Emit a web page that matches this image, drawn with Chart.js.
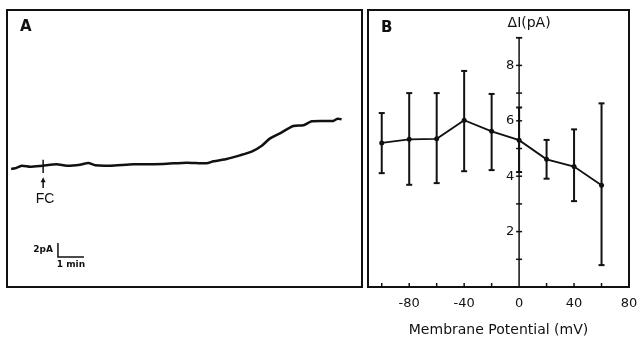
<!DOCTYPE html>
<html>
<head>
<meta charset="utf-8">
<script src="https://cdn.jsdelivr.net/npm/chart.js@4.4.0/dist/chart.umd.min.js"></script>
<style>
    body { margin: 0; background: #fff; }
    #wrap { position: relative; width: 639px; height: 342px; background: #fff; }
    #chartA { position: absolute; left: 0; top: 0; }
    #chartB { position: absolute; left: 364px; top: 0; }
</style>
</head>
<body>
<div id="wrap">
    <canvas id="chartA" width="370" height="300"></canvas>
    <canvas id="chartB" width="275" height="342"></canvas>
</div>
<script>
// ---- Panel A: current trace (time in min, current in pA above baseline)
const traceTime = [0.12, 0.27, 0.53, 0.85, 1.33, 1.87, 2.26, 2.77, 3.09, 3.35, 3.92, 4.82, 5.97, 6.87, 7.64,
                   7.90, 8.41, 8.92, 9.37, 9.76, 10.08, 10.46, 10.97, 11.36, 11.68, 12.13, 12.51, 12.67, 12.83];
const traceCurrent = [-0.43, -0.33, 0.05, -0.10, 0.05, 0.24, 0.05, 0.19, 0.43, 0.10, 0.05, 0.24, 0.29, 0.48, 0.38,
                      0.67, 1.00, 1.52, 2.05, 2.90, 3.95, 4.67, 5.71, 5.81, 6.38, 6.43, 6.43, 6.76, 6.67];
const fcTime = 1.35;
const scaleBarTime = [1.92, 1.92, 2.92];
const scaleBarCurrent = [-11, -13, -13];

// ---- Panel B: delta I vs membrane potential
const potentials = [-100, -80, -60, -40, -20, 0, 20, 40, 60];
const meanDeltaI = [5.20, 5.33, 5.35, 6.02, 5.62, 5.30, 4.61, 4.35, 3.67];
const errorHigh = [6.28, 7.00, 7.00, 7.80, 6.97, 6.48, 5.31, 5.69, 6.63];
const errorLow = [4.11, 3.69, 3.75, 4.18, 4.22, 4.15, 3.91, 3.10, 0.79];
const xTickMarks = [-100, -80, -60, -40, -20, 20, 40, 60];
const xTickLabels = [-80, -40, 0, 40, 80];
const yTickMarks = [1, 2, 3, 4, 5, 6, 7, 8, 9];
const yTickLabels = [2, 4, 6, 8];
const yAxisTop = 9;

const ink = "#111";
const fontFamily = '"DejaVu Sans", sans-serif';

function drawLine(ctx, x1, y1, x2, y2)
{
    ctx.beginPath();
    ctx.moveTo(x1, y1);
    ctx.lineTo(x2, y2);
    ctx.stroke();
}

const panelAPlugin =
    {
        id: "panelA",
        afterDraw(chart)
        {
            const {ctx, chartArea: a, scales: {x, y}} = chart;
            ctx.save();
            ctx.strokeStyle = ink;
            ctx.fillStyle = ink;
            ctx.lineWidth = 2;
            ctx.strokeRect(a.left, a.top, a.right - a.left, a.bottom - a.top);

            ctx.font = "bold 15px " + fontFamily;
            ctx.textBaseline = "top";
            ctx.fillText("A", a.left + 13, a.top + 10);

            // FC marker and arrow
            const fx = x.getPixelForValue(fcTime);
            ctx.lineWidth = 1.5;
            drawLine(ctx, fx, y.getPixelForValue(0.9), fx, y.getPixelForValue(-1.0));
            const tip = y.getPixelForValue(-1.6);
            drawLine(ctx, fx, tip + 3, fx, y.getPixelForValue(-3.15));
            ctx.beginPath();
            ctx.moveTo(fx, tip);
            ctx.lineTo(fx - 2.5, tip + 5);
            ctx.lineTo(fx + 2.5, tip + 5);
            ctx.closePath();
            ctx.fill();

            ctx.font = "14px 'Liberation Sans', sans-serif";
            ctx.textAlign = "center";
            ctx.textBaseline = "middle";
            ctx.fillText("FC", fx + 2, y.getPixelForValue(-4.7));

            // scale bar labels
            ctx.font = "bold 9px " + fontFamily;
            ctx.textAlign = "right";
            ctx.fillText("2pA", x.getPixelForValue(scaleBarTime[0]) - 5, y.getPixelForValue(-12));
            ctx.textAlign = "center";
            ctx.fillText("1 min", x.getPixelForValue((scaleBarTime[1] + scaleBarTime[2]) / 2), y.getPixelForValue(-13) + 8);
            ctx.restore();
        }
    };

const chartA = new Chart(document.getElementById("chartA").getContext("2d"),
    {
        type: "line",
        data: {
            datasets: [
                {
                    data: traceTime.map((t, i) => ({x: t, y: traceCurrent[i]})),
                    borderColor: ink,
                    borderWidth: 2.5,
                    pointRadius: 0,
                    tension: 0.2,
                    fill: false
                },
                {
                    data: scaleBarTime.map((t, i) => ({x: t, y: scaleBarCurrent[i]})),
                    borderColor: ink,
                    borderWidth: 1.5,
                    pointRadius: 0,
                    tension: 0,
                    fill: false
                }
            ]
        },
        options: {
            responsive: false,
            animation: false,
            layout: {padding: {left: 7, top: 10, right: 8, bottom: 13}},
            plugins: {legend: {display: false}, tooltip: {enabled: false}},
            scales: {
                x: {type: "linear", display: false, min: -0.04, max: 13.615},
                y: {type: "linear", display: false, min: -17.29, max: 22.29}
            }
        },
        plugins: [panelAPlugin]
    });

const panelBPlugin =
    {
        id: "panelB",
        beforeDatasetsDraw(chart)
        {
            const {ctx, chartArea: a, scales: {x, y}} = chart;
            ctx.save();
            ctx.strokeStyle = ink;
            ctx.lineWidth = 2;
            ctx.strokeRect(a.left, a.top, a.right - a.left, a.bottom - a.top);

            // vertical axis at 0 mV
            const x0 = x.getPixelForValue(0);
            ctx.lineWidth = 1.5;
            drawLine(ctx, x0, a.bottom, x0, y.getPixelForValue(yAxisTop));
            drawLine(ctx, x0 - 3, y.getPixelForValue(yAxisTop), x0 + 3, y.getPixelForValue(yAxisTop));
            yTickMarks.forEach(v =>
            {
                const py = y.getPixelForValue(v);
                drawLine(ctx, x0 - 3, py, x0 + 3, py);
            });

            // inner tick marks on the bottom edge
            xTickMarks.forEach(v =>
            {
                const px = x.getPixelForValue(v);
                drawLine(ctx, px, a.bottom, px, a.bottom - 4);
            });
            ctx.restore();
        },
        afterDatasetsDraw(chart)
        {
            const {ctx, scales: {x, y}} = chart;
            ctx.save();
            ctx.strokeStyle = ink;
            ctx.lineWidth = 2;
            potentials.forEach((v, i) =>
            {
                const px = x.getPixelForValue(v);
                const hi = y.getPixelForValue(errorHigh[i]);
                const lo = y.getPixelForValue(errorLow[i]);
                drawLine(ctx, px, hi, px, lo);
                drawLine(ctx, px - 3, hi, px + 3, hi);
                drawLine(ctx, px - 3, lo, px + 3, lo);
            });
            ctx.restore();
        },
        afterDraw(chart)
        {
            const {ctx, chartArea: a, scales: {x}} = chart;
            ctx.save();
            ctx.fillStyle = ink;
            ctx.font = "bold 15px " + fontFamily;
            ctx.textBaseline = "top";
            ctx.fillText("B", a.left + 13, a.top + 11);

            ctx.font = "14px " + fontFamily;
            ctx.textAlign = "center";
            ctx.textBaseline = "middle";
            ctx.fillText("\u0394I(pA)", x.getPixelForValue(0) + 10, a.top + 13);
            ctx.restore();
        }
    };

const chartB = new Chart(document.getElementById("chartB").getContext("2d"),
    {
        type: "line",
        data: {
            datasets: [
                {
                    data: potentials.map((v, i) => ({x: v, y: meanDeltaI[i]})),
                    borderColor: ink,
                    backgroundColor: ink,
                    borderWidth: 1.8,
                    pointRadius: 2.5,
                    pointBorderWidth: 0,
                    tension: 0,
                    fill: false
                }
            ]
        },
        options: {
            responsive: false,
            animation: false,
            layout: {padding: {left: 2, top: 10, right: 10, bottom: 0}},
            plugins: {legend: {display: false}, tooltip: {enabled: false}},
            scales: {
                x: {
                    type: "linear",
                    position: "bottom",
                    min: -110,
                    max: 80,
                    border: {display: false},
                    grid: {display: false, drawTicks: false},
                    afterBuildTicks: scale => { scale.ticks = xTickLabels.map(v => ({value: v})); },
                    afterFit: scale =>
                    {
                        scale.height = 55;
                        scale.paddingLeft = 0;
                        scale.paddingRight = 0;
                    },
                    ticks: {
                        color: ink,
                        font: {family: fontFamily, size: 13},
                        padding: 9,
                        autoSkip: false,
                        maxRotation: 0
                    },
                    title: {
                        display: true,
                        text: "Membrane Potential (mV)",
                        color: ink,
                        font: {family: fontFamily, size: 14},
                        padding: {top: 0, bottom: 3}
                    }
                },
                y: {
                    type: "linear",
                    // labels sit just left of the 0 mV axis line (drawn by the plugin)
                    position: {x: -3.6},
                    min: 0,
                    max: 10,
                    border: {display: false},
                    grid: {display: false, drawTicks: false},
                    afterBuildTicks: scale => { scale.ticks = yTickMarks.map(v => ({value: v})); },
                    afterFit: scale =>
                    {
                        scale.paddingTop = 0;
                        scale.paddingBottom = 0;
                    },
                    ticks: {
                        color: ink,
                        font: {family: fontFamily, size: 13},
                        padding: 0,
                        callback: v => yTickLabels.includes(v) ? String(v) : ""
                    }
                }
            }
        },
        plugins: [panelBPlugin]
    });
</script>
</body>
</html>
